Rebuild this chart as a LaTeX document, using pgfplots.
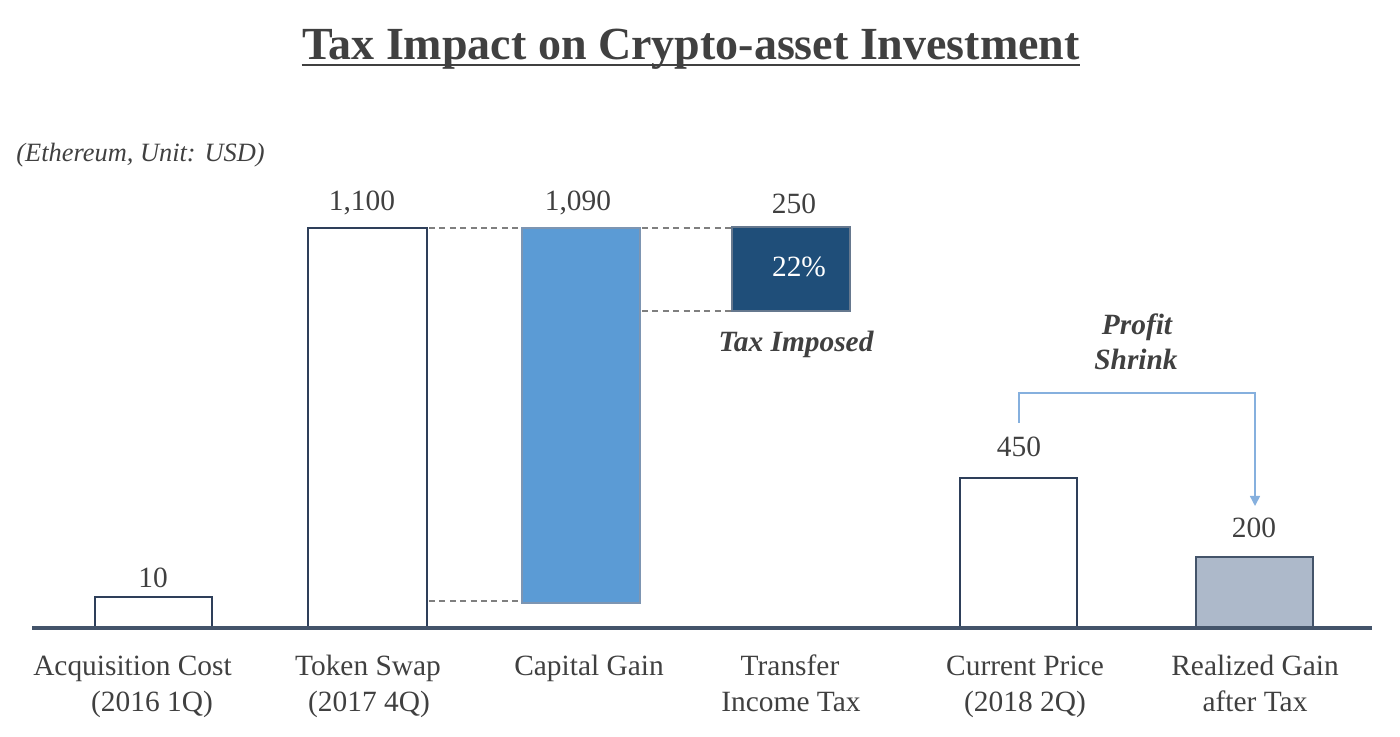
\documentclass[border=0pt]{standalone}
\usepackage{fontspec}
\setmainfont{Liberation Serif}
\usepackage{pgfplots}
\pgfplotsset{compat=1.18}
\usetikzlibrary{arrows.meta}
\definecolor{txtc}{HTML}{404040}
\definecolor{navyc}{HTML}{2E3F5A}
\definecolor{bluc}{HTML}{5B9BD5}
\definecolor{bluborderc}{HTML}{7D95B2}
\definecolor{darkc}{HTML}{1F4E79}
\definecolor{darkborderc}{HTML}{66788E}
\definecolor{grayc}{HTML}{ADB9CA}
\definecolor{basec}{HTML}{44546A}
\definecolor{dashc}{HTML}{7F7F7F}
\definecolor{arrc}{HTML}{86B0DE}
\begin{document}
\begin{tikzpicture}
\begin{axis}[scale only axis, width=700pt, height=368.5pt,
  xmin=0, xmax=1400, ymin=-110, ymax=627, hide axis, clip=false]
\path (axis cs:0,-110) rectangle (axis cs:1400,627);
% bars (heights in drawing units above the baseline)
\addplot[draw=navyc, fill=white, line width=0.75pt] coordinates {(95,0) (212,0) (212,30) (95,30)} -- cycle;
\addplot[draw=navyc, fill=white, line width=0.75pt] coordinates {(308,0) (427,0) (427,399) (308,399)} -- cycle;
\addplot[draw=bluborderc, fill=bluc, line width=0.6pt] coordinates {(522,24) (640,24) (640,399) (522,399)} -- cycle;
\addplot[draw=darkborderc, fill=darkc, line width=0.7pt] coordinates {(732,316) (850,316) (850,400) (732,400)} -- cycle;
\addplot[draw=navyc, fill=white, line width=0.75pt] coordinates {(960,0) (1077,0) (1077,149) (960,149)} -- cycle;
\addplot[draw=basec, fill=grayc, line width=0.75pt] coordinates {(1196,0) (1313,0) (1313,70) (1196,70)} -- cycle;
% connectors
\addplot[dashc, line width=0.7pt, dash pattern=on 3pt off 2.2pt] coordinates {(429,399) (522,399)};
\addplot[dashc, line width=0.7pt, dash pattern=on 3pt off 2.2pt] coordinates {(429,26) (522,26)};
\addplot[dashc, line width=0.7pt, dash pattern=on 3pt off 2.2pt] coordinates {(642,399) (732,399)};
\addplot[dashc, line width=0.7pt, dash pattern=on 3pt off 2.2pt] coordinates {(642,316) (732,316)};
% baseline
\draw[basec, line width=2pt] (axis cs:32,-1.5) -- (axis cs:1372,-1.5);
% arrow
\draw[arrc, line width=0.8pt, -{Triangle[length=5pt,width=5pt]}] (axis cs:1019,204) -- (axis cs:1019,234) -- (axis cs:1255,234) -- (axis cs:1255,121);
% title
\node[anchor=base, inner sep=0pt, text=txtc, font=\fontsize{23}{27}\selectfont\bfseries] (t) at (axis cs:691,567) {Tax Impact on Crypto-asset Investment};
\draw[txtc, line width=1.1pt] ([yshift=-2.6pt]t.base west) -- ([yshift=-2.6pt]t.base east);
\node[anchor=base west, inner sep=0pt, text=txtc, font=\fontsize{13.2}{16}\selectfont\itshape] at (axis cs:16,465) {(Ethereum, Unit: USD)};
% value labels
\begin{scope}[every node/.style={anchor=base, inner sep=0pt, text=txtc, font=\fontsize{14.7}{18}\selectfont}]
\node at (axis cs:153,39) {10};
\node at (axis cs:362,416) {1,100};
\node at (axis cs:578,416) {1,090};
\node at (axis cs:794,413) {250};
\node[text=white] at (axis cs:799,350) {22\%};
\node at (axis cs:1019,170) {450};
\node at (axis cs:1254,89) {200};
\node[font=\fontsize{14.7}{18}\selectfont\bfseries\itshape] at (axis cs:796,275) {Tax Imposed};
\node[font=\fontsize{14.7}{18}\selectfont\bfseries\itshape] at (axis cs:1137,292) {Profit};
\node[font=\fontsize{14.7}{18}\selectfont\bfseries\itshape] at (axis cs:1136,257) {Shrink};
% category labels
\node at (axis cs:132.5,-49) {Acquisition Cost};
\node at (axis cs:152,-85) {(2016 1Q)};
\node at (axis cs:368,-49) {Token Swap};
\node at (axis cs:369,-85) {(2017 4Q)};
\node at (axis cs:589,-49) {Capital Gain};
\node at (axis cs:790,-49) {Transfer};
\node at (axis cs:791,-85) {Income Tax};
\node at (axis cs:1025,-49) {Current Price};
\node at (axis cs:1025,-85) {(2018 2Q)};
\node at (axis cs:1255,-49) {Realized Gain};
\node at (axis cs:1255,-85) {after Tax};
\end{scope}
\end{axis}
\end{tikzpicture}
\end{document}
